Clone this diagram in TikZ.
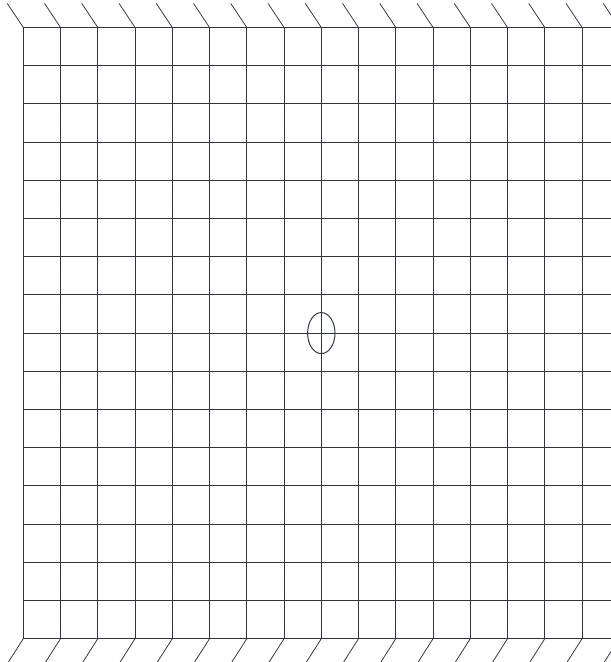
\documentclass[tikz,border=0pt]{standalone}
\usetikzlibrary{calc}
\definecolor{netz}{HTML}{2E3440}

\begin{document}
\begin{tikzpicture}[x=0.93125cm, y=0.955cm,
    gitter/.style={draw=netz, line width=0.75pt},
    schraffur/.style={draw=netz, line width=0.55pt},
    loch/.style={draw=netz, line width=0.7pt}
  ]
  \useasboundingbox (-0.6255,-0.61) rectangle (15.777,16.72);
  \clip (-0.6255,-0.61) rectangle (15.777,16.72);

  % -- Netz --
  \foreach \i in {0,...,16}
    \draw[gitter] (\i,0) -- (\i,16);
  \foreach \j in {0,...,16}
    \draw[gitter] (0,\j) -- (16,\j);

  % -- Einspannung oben / unten --
  \foreach \i in {0,...,16} {
    \draw[schraffur] (\i,16) -- ++(-0.43,0.63);
    \draw[schraffur] (\i,0) -- ++(-0.40,-0.61);
  }

  % -- Loch --
  \draw[loch] (8,8) ellipse [x radius=0.368, y radius=0.537];
\end{tikzpicture}
\end{document}
